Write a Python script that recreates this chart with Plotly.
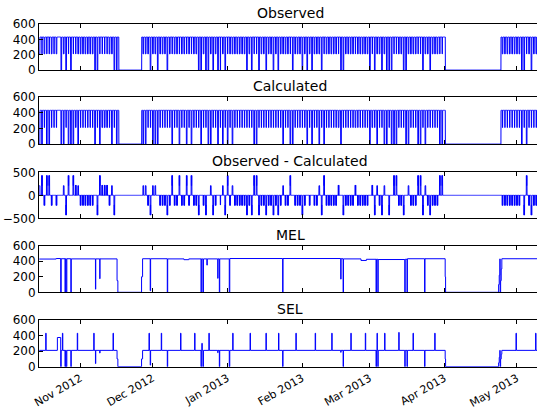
import numpy as np
import pandas as pd
import plotly.graph_objects as go

# ---------------------------------------------------------------------------
# Data
# ---------------------------------------------------------------------------
START = "2012-10-15"

# Daily operating pattern, one character per day starting at START:
#   '4' flat at full output, '2' long overnight drop to SEL, 'b' short drop to SEL,
#   '0' long overnight drop to zero, 'o' short drop to zero,
#   'x' off all day, 'r' return to service at midday, 'e' shut down mid-morning
OBS_DAYS = [
    "2b2bb2b240", "20b0bb2222", "22200bbbb2", "200xxxxxxx", "xxr2220220",
    "22202b22b2", "2b2b220020", "02020o20b2", "222222020b", "b022022020",
    "2222b02220", "20202220b2", "2222b00222", "2b222220b0", "2202000bb2",
    "2002222bb0", "220222bbex", "xxxxxxxxxx", "xxxxxxxxxx", "xr22222222",
    "00b2022",
]
CALC_DAYS = [
    "00b00bbb40", "0b00020bbb", "bbb0b0222b", "0b0xxxxxxx", "xxr00bb000",
    "bbbbb0bb0b", "b0b0bbb0bb", "00bb0b0b0b", "0bbbbbbbb0", "0bbbbbbbbb",
    "b0bb00bbbb", "b0b0bb0b0b", "bbbb20bbbb", "b2bbbbb02b", "0bb00b000b",
    "bb00bbb00b", "0bbbbb00ex", "xxxxxxxxxx", "xxxxxxxxxx", "xrbbbbbbbb",
    "0b0bbbb",
]

FULL_LEVEL = 430
STABLE_LEVEL = 210

# Maximum Export Limit: change points (time, MW)
MEL_TIMES = [
    "2012-10-15 00:00", "2012-10-22 00:00", "2012-10-23 21:00", "2012-10-24 02:00",
    "2012-10-25 16:00", "2012-10-25 20:00", "2012-10-26 04:00", "2012-10-26 10:00",
    "2012-10-28 02:00", "2012-10-28 06:00", "2012-11-07 07:00", "2012-11-07 10:00",
    "2012-11-09 02:00", "2012-11-09 04:00", "2012-11-16 06:00", "2012-11-16 14:00",
    "2012-11-26 10:00", "2012-11-26 20:00", "2012-11-30 00:00", "2012-11-30 04:00",
    "2012-12-07 02:00", "2012-12-07 06:00", "2012-12-14 00:00", "2012-12-16 00:00",
    "2012-12-21 02:00", "2012-12-21 05:00", "2012-12-21 20:00", "2012-12-22 02:00",
    "2012-12-23 12:00", "2012-12-23 16:00", "2012-12-28 00:00", "2012-12-28 03:00",
    "2012-12-28 16:00", "2012-12-28 20:00", "2013-01-01 19:00", "2013-01-02 00:00",
    "2013-01-23 22:00", "2013-01-24 02:00", "2013-02-17 00:00", "2013-02-17 04:00",
    "2013-02-18 00:00", "2013-02-18 04:00", "2013-02-25 10:00", "2013-02-27 16:00",
    "2013-03-03 16:00", "2013-03-03 20:00", "2013-03-04 10:00", "2013-03-04 13:00",
    "2013-03-15 14:00", "2013-03-15 18:00", "2013-03-16 12:00", "2013-03-16 16:00",
    "2013-03-23 19:00", "2013-03-23 23:00", "2013-04-01 08:00", "2013-04-01 12:00",
    "2013-04-23 12:00", "2013-04-23 18:00", "2013-04-24 00:00", "2013-04-24 03:00",
    "2013-04-24 08:00", "2013-04-24 14:00", "2013-04-24 20:00", "2013-05-10 00:00",
]
MEL_VALUES = [
    428, 435, 0, 432,
    0, 432, 0, 432,
    0, 430, 40, 430,
    175, 430, 150, 0,
    200, 432, 20, 432,
    0, 430, 420, 430,
    0, 430, 0, 430,
    350, 430, 180, 430,
    0, 430, 0, 435,
    0, 435, 170, 432,
    0, 430, 410, 425,
    0, 425, 0, 422,
    0, 425, 0, 432,
    0, 432, 200, 0,
    100, 220, 430, 0,
    150, 300, 432, 432,
]

# Stable Export Limit: change points (time, MW)
SEL_TIMES = [
    "2012-10-15 00:00", "2012-10-17 16:00", "2012-10-17 20:00", "2012-10-22 12:00",
    "2012-10-23 21:00", "2012-10-24 02:00", "2012-10-24 14:00", "2012-10-24 18:00",
    "2012-10-25 16:00", "2012-10-25 20:00", "2012-10-26 04:00", "2012-10-26 10:00",
    "2012-10-28 02:00", "2012-10-28 06:00", "2012-10-30 18:00", "2012-10-30 22:00",
    "2012-11-06 14:00", "2012-11-06 18:00", "2012-11-07 07:00", "2012-11-07 10:00",
    "2012-11-09 02:00", "2012-11-09 04:00", "2012-11-14 14:00", "2012-11-14 18:00",
    "2012-11-16 06:00", "2012-11-16 14:00", "2012-11-26 10:00", "2012-11-26 20:00",
    "2012-11-29 12:00", "2012-11-29 16:00", "2012-11-30 00:00", "2012-11-30 04:00",
    "2012-12-04 14:00", "2012-12-04 18:00", "2012-12-07 02:00", "2012-12-07 06:00",
    "2012-12-12 14:00", "2012-12-12 18:00", "2012-12-18 10:00", "2012-12-18 14:00",
    "2012-12-21 02:00", "2012-12-21 05:00", "2012-12-21 10:00", "2012-12-21 14:00",
    "2012-12-21 20:00", "2012-12-22 02:00", "2012-12-24 08:00", "2012-12-24 12:00",
    "2012-12-28 00:00", "2012-12-28 03:00", "2012-12-28 16:00", "2012-12-28 20:00",
    "2013-01-01 19:00", "2013-01-02 00:00", "2013-01-03 05:00", "2013-01-03 09:00",
    "2013-01-10 10:00", "2013-01-10 14:00", "2013-01-17 00:00", "2013-01-17 04:00",
    "2013-01-22 05:00", "2013-01-22 09:00", "2013-01-23 22:00", "2013-01-24 02:00",
    "2013-01-29 10:00", "2013-01-29 14:00", "2013-02-06 10:00", "2013-02-06 14:00",
    "2013-02-13 07:00", "2013-02-13 11:00", "2013-02-17 00:00", "2013-02-17 04:00",
    "2013-02-18 00:00", "2013-02-18 04:00", "2013-02-21 05:00", "2013-02-21 09:00",
    "2013-02-27 05:00", "2013-02-27 09:00", "2013-03-03 16:00", "2013-03-03 20:00",
    "2013-03-04 02:00", "2013-03-04 05:00", "2013-03-04 10:00", "2013-03-04 13:00",
    "2013-03-07 05:00", "2013-03-07 09:00", "2013-03-13 02:00", "2013-03-13 06:00",
    "2013-03-15 14:00", "2013-03-15 18:00", "2013-03-16 12:00", "2013-03-16 16:00",
    "2013-03-19 00:00", "2013-03-19 04:00", "2013-03-23 19:00", "2013-03-23 23:00",
    "2013-03-28 00:00", "2013-03-28 04:00", "2013-04-01 08:00", "2013-04-01 12:00",
    "2013-04-23 12:00", "2013-04-23 18:00", "2013-04-24 00:00", "2013-04-24 03:00",
    "2013-04-24 08:00", "2013-04-24 14:00", "2013-04-24 20:00", "2013-04-30 17:00",
    "2013-04-30 21:00", "2013-05-08 20:00", "2013-05-09 00:00", "2013-05-10 00:00",
]
SEL_VALUES = [
    210, 430, 210, 375,
    0, 210, 430, 210,
    0, 210, 0, 210,
    0, 210, 430, 210,
    430, 210, 40, 210,
    175, 210, 430, 210,
    100, 0, 100, 210,
    430, 210, 20, 210,
    430, 210, 0, 210,
    430, 210, 430, 210,
    0, 210, 300, 210,
    0, 210, 430, 210,
    180, 210, 0, 210,
    0, 210, 430, 210,
    430, 210, 430, 210,
    430, 210, 0, 210,
    430, 210, 430, 210,
    430, 210, 185, 210,
    0, 210, 430, 210,
    430, 210, 0, 210,
    430, 210, 0, 210,
    430, 210, 440, 210,
    0, 210, 0, 210,
    430, 210, 0, 210,
    430, 210, 100, 0,
    50, 120, 210, 0,
    100, 160, 210, 430,
    210, 430, 210, 210,
]

PANEL_TITLES = ["Observed", "Calculated", "Observed - Calculated", "MEL", "SEL"]
X_RANGE = ["2012-10-14 21:00", "2013-05-09 10:00"]


# ---------------------------------------------------------------------------
# Expand the daily codes into an hourly profile
# ---------------------------------------------------------------------------
def day_profile(code):
    h = np.full(24, FULL_LEVEL, dtype=float)
    if code == "2":
        h[0:7] = STABLE_LEVEL
    elif code == "b":
        h[2:5] = STABLE_LEVEL
    elif code == "0":
        h[0:7] = 0
    elif code == "o":
        h[2:5] = 0
    elif code == "x":
        h[:] = 0
    elif code == "r":
        h[:12] = 0
    elif code == "e":
        h[10:] = 0
    return h


def hourly(chunks):
    codes = "".join(chunks)
    values = np.concatenate([day_profile(c) for c in codes])
    times = pd.date_range(START, periods=len(values), freq="h")
    return times, values


t_obs, observed = hourly(OBS_DAYS)
t_calc, calculated = hourly(CALC_DAYS)
difference = observed - calculated

# ---------------------------------------------------------------------------
# Figure
# ---------------------------------------------------------------------------
W, H = 537, 412
LEFT = 39
# panel (top, bottom) in pixels
PANELS_PX = [(24, 70), (97, 144), (172.3, 218.3), (245.7, 292.3), (320, 366.7)]
FONT = "DejaVu Sans"
BLUE = "#0000ff"

fig = go.Figure()

series = [
    (t_obs, observed, "linear"),
    (t_calc, calculated, "linear"),
    (t_obs, difference, "linear"),
    (pd.to_datetime(MEL_TIMES), MEL_VALUES, "hv"),
    (pd.to_datetime(SEL_TIMES), SEL_VALUES, "hv"),
]

for i, (x, y, shape) in enumerate(series, start=1):
    suffix = "" if i == 1 else str(i)
    fig.add_trace(go.Scatter(
        x=x, y=y, mode="lines",
        line=dict(color=BLUE, width=1, shape=shape, simplify=False),
        xaxis="x" + suffix, yaxis="y" + suffix,
        showlegend=False, hoverinfo="skip",
    ))

layout = dict(
    width=W, height=H,
    margin=dict(l=LEFT, r=0, t=0, b=0, pad=0),
    paper_bgcolor="white", plot_bgcolor="white",
    template="none",
    font=dict(family=FONT, size=11, color="black"),
    annotations=[],
)

for i, (top, bot) in enumerate(PANELS_PX, start=1):
    suffix = "" if i == 1 else str(i)
    dom = [1 - bot / H, 1 - top / H]
    last = i == len(PANELS_PX)
    layout["xaxis" + suffix] = dict(
        domain=[0, 1], anchor="y" + suffix, type="date", range=X_RANGE,
        showline=True, linecolor="black", linewidth=1, mirror="ticks",
        ticks="inside", ticklen=4, tickcolor="black", tickwidth=1,
        dtick="M1", tick0="2012-11-01", tickformat="%b %Y",
        showticklabels=last, tickangle=-30,
        tickfont=dict(family=FONT, size=11, color="black"),
        showgrid=False, zeroline=False, automargin=False,
    )
    if i == 3:
        yr, tv = [-500, 500], [-500, 0, 500]
    else:
        yr, tv = [0, 600], [0, 200, 400, 600]
    layout["yaxis" + suffix] = dict(
        domain=dom, anchor="x" + suffix, range=yr, tickvals=tv,
        showline=True, linecolor="black", linewidth=1, mirror=False,
        ticks="inside", ticklen=4, tickcolor="black", tickwidth=1,
        tickfont=dict(family=FONT, size=12, color="black"),
        showgrid=False, zeroline=False, automargin=False,
    )
    layout["annotations"].append(dict(
        text=PANEL_TITLES[i - 1], xref="paper", yref="paper",
        x=(290 - LEFT) / (W - LEFT), y=dom[1], xanchor="center", yanchor="bottom",
        yshift=1, showarrow=False,
        font=dict(family=FONT, size=14, color="black"),
    ))

fig.update_layout(**layout)
fig.write_html("out.html")
